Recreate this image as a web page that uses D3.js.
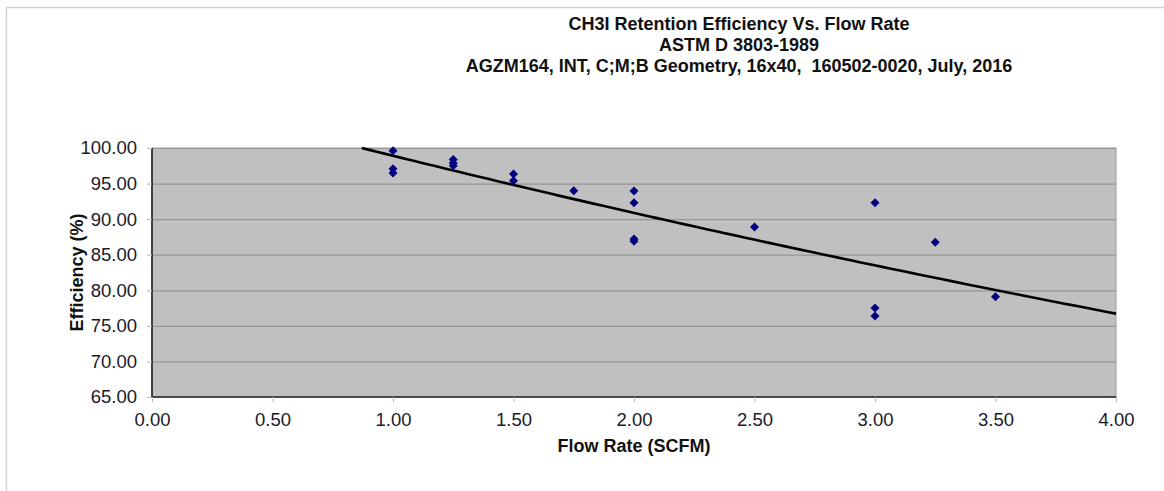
<!DOCTYPE html>
<html>
<head>
<meta charset="utf-8">
<script src="https://cdn.jsdelivr.net/npm/d3@7"></script>
<style>
  body { margin: 0; background: #fff; }
  text { font-family: "Liberation Sans", Arial, sans-serif; white-space: pre; }
</style>
</head>
<body>
<div id="chart"></div>
<script>
// flow rate (SCFM) and retention efficiency (%)
var flowRates = [1.00, 1.00, 1.00, 1.25, 1.25, 1.25, 1.50, 1.50, 1.75,
                 2.00, 2.00, 2.00, 2.00, 2.50, 3.00, 3.00, 3.00, 3.25, 3.50];
var efficiencies = [99.6, 97.1, 96.5, 98.4, 97.9, 97.5, 96.35, 95.4, 94.0,
                    93.95, 92.3, 87.2, 86.9, 88.9, 92.3, 77.5, 76.4, 86.75, 79.1];
var xTicks = [0, 0.5, 1, 1.5, 2, 2.5, 3, 3.5, 4];
var yTicks = [65, 70, 75, 80, 85, 90, 95, 100];
var titleLines = ["CH3I Retention Efficiency Vs. Flow Rate",
                  "ASTM D 3803-1989",
                  "AGZM164, INT, C;M;B Geometry, 16x40,  160502-0020, July, 2016"];

var W = 1164, H = 491;
var margin = {top: 148, right: 48, bottom: 94, left: 152},
    width = W - margin.left - margin.right,
    height = H - margin.top - margin.bottom;

var root = d3.select("#chart")
  .append("svg")
    .attr("width", W)
    .attr("height", H);

// outer frame (top + left edges only visible)
root.append("path")
  .attr("d", "M6.5,491 L6.5,7.5 L1164,7.5")
  .attr("fill", "none")
  .attr("stroke", "#d4d4d4")
  .attr("stroke-width", 1.5);

// titles
var titleY = [29.5, 50.5, 71.5];
root.selectAll(".title")
  .data(titleLines)
  .enter()
  .append("text")
    .attr("x", 739)
    .attr("y", function(d, i) { return titleY[i]; })
    .attr("text-anchor", "middle")
    .attr("font-size", 18)
    .attr("font-weight", "bold")
    .attr("fill", "#111")
    .text(function(d) { return d; });

var svg = root.append("g")
  .attr("transform", "translate(" + margin.left + "," + margin.top + ")");

var x = d3.scaleLinear().domain([0, 4]).range([0, width]);
var y = d3.scaleLinear().domain([65, 100]).range([height, 0]);

// plot background
svg.append("rect")
  .attr("width", width)
  .attr("height", height)
  .attr("fill", "#c0c0c0")
  .attr("stroke", "#999")
  .attr("stroke-width", 1);

// horizontal gridlines
svg.selectAll(".grid")
  .data(yTicks.slice(1))
  .enter()
  .append("line")
    .attr("x1", 0)
    .attr("x2", width)
    .attr("y1", function(d) { return y(d) + 0.5; })
    .attr("y2", function(d) { return y(d) + 0.5; })
    .attr("stroke", "#969696")
    .attr("stroke-width", 1.2);

// axes
var xAxis = svg.append("g")
  .attr("transform", "translate(0," + height + ")")
  .call(d3.axisBottom(x).tickValues(xTicks).tickFormat(d3.format(".2f"))
    .tickSize(5).tickPadding(11));
var yAxis = svg.append("g")
  .call(d3.axisLeft(y).tickValues(yTicks).tickFormat(d3.format(".2f"))
    .tickSize(5).tickPadding(10));

[xAxis, yAxis].forEach(function(a) {
  a.select(".domain").attr("stroke", "#222").attr("stroke-width", 1.6);
  a.selectAll(".tick line").attr("stroke", "#bbb");
  a.selectAll(".tick text")
    .attr("font-size", 18.5)
    .attr("fill", "#1a1a2a")
    .attr("font-family", "'Liberation Sans', Arial, sans-serif");
});
xAxis.select(".domain").attr("d", "M0,0H" + width);
yAxis.select(".domain").attr("d", "M0,0V" + height);

// axis titles
svg.append("text")
  .attr("x", width / 2)
  .attr("y", height + 55)
  .attr("text-anchor", "middle")
  .attr("font-size", 18)
  .attr("font-weight", "bold")
  .attr("fill", "#111")
  .text("Flow Rate (SCFM)");

svg.append("text")
  .attr("transform", "translate(-74," + (height / 2) + ") rotate(-90)")
  .attr("text-anchor", "middle")
  .attr("dominant-baseline", "middle")
  .attr("font-size", 18)
  .attr("font-weight", "bold")
  .attr("fill", "#111")
  .text("Efficiency (%)");

// exponential trendline fitted to the points (ln y vs x least squares)
var points = flowRates.map(function(f, i) { return [f, efficiencies[i]]; });
var mx = d3.mean(points, function(p) { return p[0]; });
var my = d3.mean(points, function(p) { return Math.log(p[1]); });
var sxy = d3.sum(points, function(p) { return (p[0] - mx) * (Math.log(p[1]) - my); });
var sxx = d3.sum(points, function(p) { return (p[0] - mx) * (p[0] - mx); });
var b = sxy / sxx, a = my - b * mx;
var trend = function(f) { return Math.exp(a + b * f); };
var fStart = (Math.log(100) - a) / b;
var trendPts = d3.range(0, 101).map(function(i) {
  var f = fStart + (4 - fStart) * i / 100;
  return [f, trend(f)];
});

svg.append("path")
  .datum(trendPts)
  .attr("fill", "none")
  .attr("stroke", "#000")
  .attr("stroke-width", 2.6)
  .attr("d", d3.line()
    .x(function(d) { return x(d[0]); })
    .y(function(d) { return y(d[1]); }));

// data markers
svg.selectAll(".pt")
  .data(points)
  .enter()
  .append("path")
    .attr("transform", function(d) { return "translate(" + x(d[0]) + "," + y(d[1]) + ")"; })
    .attr("d", "M0,-4.5L4.5,0L0,4.5L-4.5,0Z")
    .attr("fill", "#000080");
</script>
</body>
</html>
